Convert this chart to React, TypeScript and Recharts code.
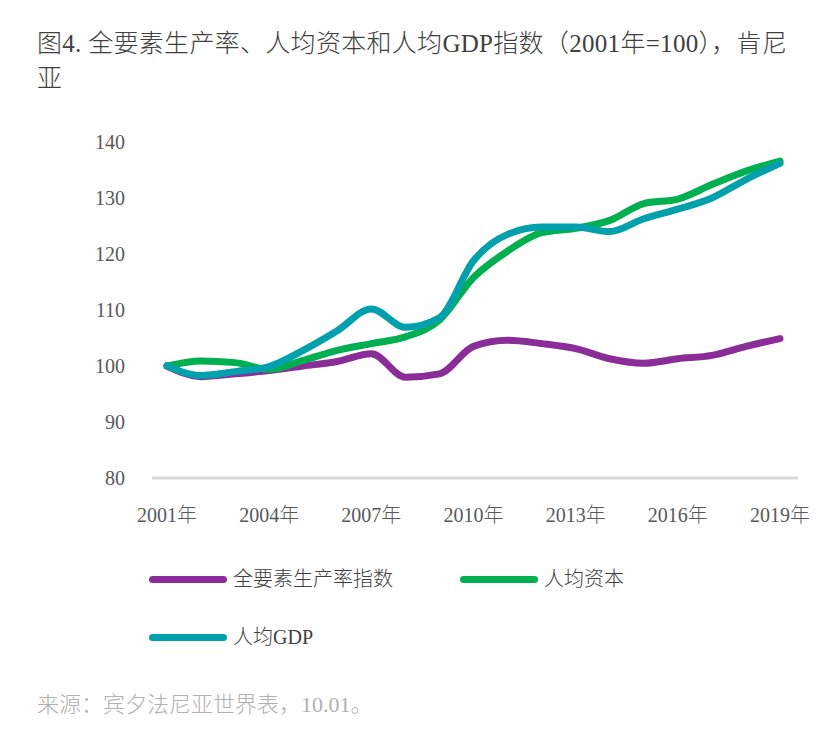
import { LineChart, Line, XAxis, YAxis, CartesianGrid } from 'recharts';

const years = [
  '2001年', '2002年', '2003年', '2004年', '2005年', '2006年', '2007年', '2008年', '2009年', '2010年',
  '2011年', '2012年', '2013年', '2014年', '2015年', '2016年', '2017年', '2018年', '2019年',
];

// 全要素生产率指数
const tfp = [100, 98.1, 98.6, 99.2, 100, 100.8, 102.2, 98, 98.6, 103.5, 104.6, 104, 103.1, 101.3, 100.5, 101.3, 101.9, 103.5, 104.9];
// 人均资本
const capital = [100, 100.9, 100.6, 99.4, 101, 102.8, 104, 105.2, 108.2, 115.8, 120.5, 123.8, 124.6, 126, 129, 129.8, 132.4, 134.8, 136.6];
// 人均GDP
const gdp = [100, 98.3, 99, 99.9, 102.8, 106.3, 110.2, 106.9, 108.6, 118.8, 123.5, 124.8, 124.8, 124, 126.3, 128, 130, 133.3, 136.2];

const yTicks = [80, 90, 100, 110, 120, 130, 140];

const series = [
  { key: 'tfp', name: '全要素生产率指数', color: '#8a2d98' },
  { key: 'capital', name: '人均资本', color: '#00b050' },
  { key: 'gdp', name: '人均GDP', color: '#00a0ac' },
];

const data = years.map((year, i) => ({ year, tfp: tfp[i], capital: capital[i], gdp: gdp[i] }));

const FONT = "'Liberation Serif', 'Noto Sans CJK SC', serif";
const TICK = { fontSize: 20, fill: '#595959', fontFamily: FONT, fontWeight: 300 };

function LegendItem({ name, color, left, top }: { name: string; color: string; left: number; top: number }) {
  return (
    <div style={{ position: 'absolute', left, top, display: 'flex', alignItems: 'center', height: 30 }}>
      <div style={{ width: 78, height: 7, borderRadius: 4, background: color }} />
      <span style={{ marginLeft: 6, fontSize: 20, color: '#404040', lineHeight: '30px' }}>{name}</span>
    </div>
  );
}

export default function App() {
  return (
    <div
      style={{
        position: 'absolute',
        left: 0,
        top: 0,
        width: 834,
        height: 730,
        background: '#fff',
        fontFamily: FONT,
        fontWeight: 300,
      }}
    >
      <div style={{ position: 'absolute', left: 37, top: 26, fontSize: 25, lineHeight: '35px', color: '#404040', letterSpacing: 0.3 }}>
        图4. 全要素生产率、人均资本和人均GDP指数（2001年=100），肯尼
        <br />
        亚
      </div>

      <div style={{ position: 'absolute', left: 0, top: 0 }}>
        <LineChart width={834} height={560} data={data} margin={{ top: 142, right: 36, bottom: 42, left: 0 }}>
          <CartesianGrid horizontal={false} vertical={false} />
          <XAxis
            dataKey="year"
            interval={2}
            tick={TICK}
            tickSize={0}
            tickMargin={30}
            height={40}
            padding={{ left: 15, right: 18 }}
            axisLine={{ stroke: '#d9d9d9', strokeWidth: 3 }}
          />
          <YAxis
            domain={[80, 140]}
            ticks={yTicks}
            tick={TICK}
            tickSize={0}
            tickMargin={27}
            width={152}
            axisLine={false}
            tickLine={false}
          />
          {series.map((s) => (
            <Line
              key={s.key}
              type="monotone"
              dataKey={s.key}
              name={s.name}
              stroke={s.color}
              strokeWidth={7}
              strokeLinecap="round"
              strokeLinejoin="round"
              dot={false}
              activeDot={false}
              isAnimationActive={false}
            />
          ))}
        </LineChart>
      </div>

      <LegendItem name={series[0].name} color={series[0].color} left={149} top={564} />
      <LegendItem name={series[1].name} color={series[1].color} left={460} top={564} />
      <LegendItem name={series[2].name} color={series[2].color} left={149} top={622} />

      <div style={{ position: 'absolute', left: 37, top: 690, fontSize: 22, lineHeight: '30px', color: '#b0b0b0' }}>
        来源：宾夕法尼亚世界表，10.01。
      </div>
    </div>
  );
}
